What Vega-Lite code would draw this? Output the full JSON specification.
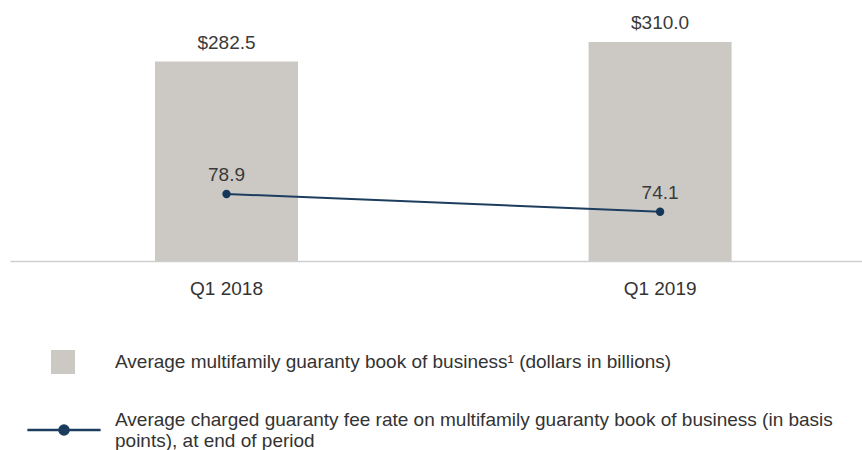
{
  "$schema": "https://vega.github.io/schema/vega-lite/v6.json",
  "width": 852,
  "height": 261,
  "autosize": {"type": "none"},
  "padding": {"left": 10, "top": 0, "right": 0, "bottom": 189},
  "background": "white",
  "config": {
    "font": "Liberation Sans",
    "view": {"stroke": null},
    "style": {"guide-label": {"lineHeight": 21}}
  },
  "data": {
    "values": [
      {"quarter": "Q1 2018", "book": 282.5, "fee": 78.9},
      {"quarter": "Q1 2019", "book": 310.0, "fee": 74.1}
    ]
  },
  "encoding": {
    "x": {
      "field": "quarter",
      "type": "nominal",
      "scale": {"paddingInner": 0.6702, "paddingOuter": 0.3176, "align": 0.5265},
      "axis": {
        "title": null,
        "labelAngle": 0,
        "ticks": false,
        "domainColor": "#cfcfcf",
        "domainWidth": 1.5,
        "labelFontSize": 19,
        "labelColor": "#333333",
        "labelPadding": 18
      }
    }
  },
  "layer": [
    {
      "layer": [
        {
          "mark": {"type": "bar"},
          "encoding": {
            "y": {"field": "book", "type": "quantitative", "scale": {"domain": [0, 369.4], "nice": false}, "axis": null},
            "fill": {
              "datum": "Average multifamily guaranty book of business¹ (dollars in billions)",
              "scale": {"range": ["#ccc9c4"]},
              "legend": {
                "title": null,
                "orient": "none",
                "legendX": 41,
                "legendY": 350,
                "padding": 0,
                "symbolType": "square",
                "symbolSize": 576,
                "symbolStrokeWidth": 0,
                "labelFontSize": 19,
                "labelColor": "#333333",
                "labelOffset": 40,
                "labelLimit": 900
              }
            }
          }
        },
        {
          "mark": {"type": "text", "baseline": "middle", "dy": -18.5, "fontSize": 19, "color": "#3a3a3a"},
          "encoding": {
            "y": {"field": "book", "type": "quantitative"},
            "text": {"field": "book", "type": "quantitative", "format": "$.1f"}
          }
        }
      ]
    },
    {
      "layer": [
        {
          "mark": {"type": "line", "strokeWidth": 2},
          "encoding": {
            "y": {"field": "fee", "type": "quantitative", "scale": {"domain": [60.73, 131.51], "nice": false, "zero": false}, "axis": null},
            "stroke": {
              "datum": "Average charged guaranty fee rate on multifamily guaranty book of business (in basis|points), at end of period",
              "scale": {"range": ["#1d3d5e"]},
              "legend": {
                "title": null,
                "orient": "none",
                "legendX": 16,
                "legendY": 392,
                "padding": 0,
                "symbolType": "M-1,0H1M-0.125,0A0.125,0.125 0 1 1 0.125,0A0.125,0.125 0 1 1 -0.125,0Z",
                "symbolSize": 5360,
                "symbolStrokeWidth": 2.5,
                "symbolFillColor": "#173a5c",
                "symbolStrokeColor": "#1d3d5e",
                "labelFontSize": 19,
                "labelColor": "#333333",
                "labelOffset": 13,
                "labelLimit": 900,
                "labelBaseline": "bottom",
                "labelExpr": "split(datum.label, '|')"
              }
            }
          }
        },
        {
          "mark": {"type": "point", "filled": true, "size": 70, "color": "#143659", "opacity": 1},
          "encoding": {
            "y": {"field": "fee", "type": "quantitative"}
          }
        },
        {
          "mark": {"type": "text", "baseline": "middle", "dy": -19, "fontSize": 19, "color": "#3a3a3a"},
          "encoding": {
            "y": {"field": "fee", "type": "quantitative"},
            "text": {"field": "fee", "type": "quantitative", "format": ".1f"}
          }
        }
      ]
    }
  ],
  "resolve": {"scale": {"y": "independent"}}
}
